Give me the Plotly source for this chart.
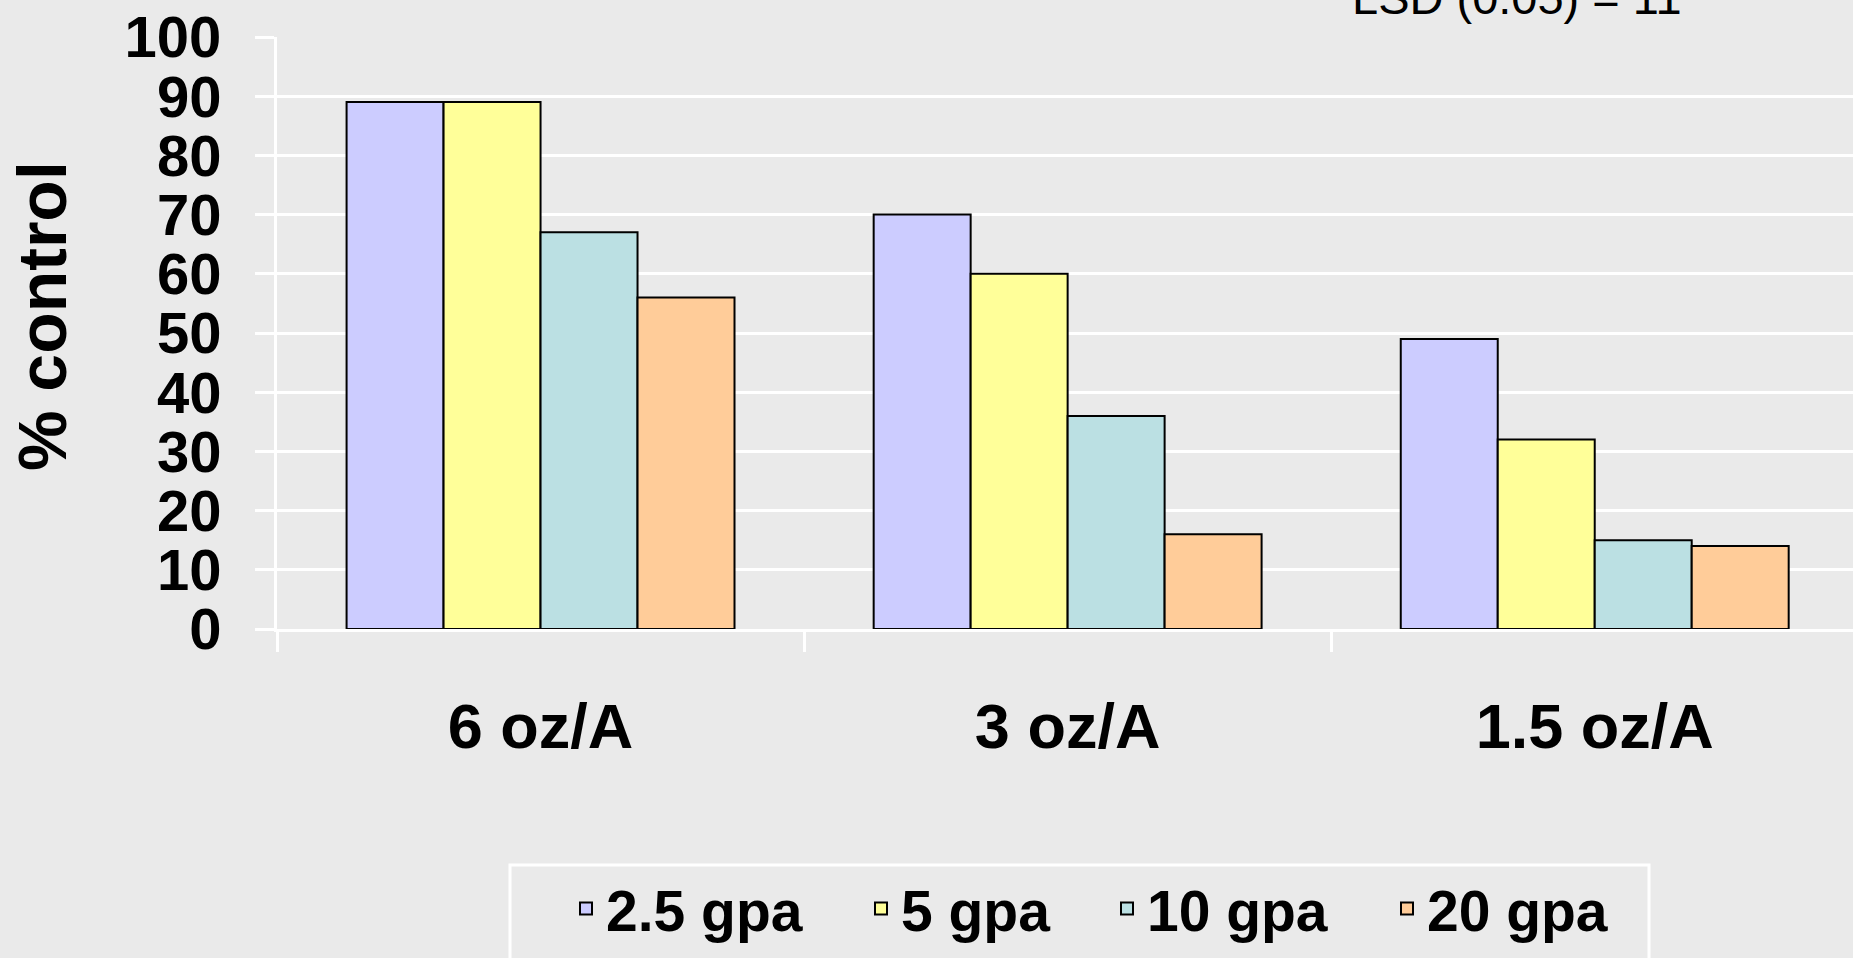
import plotly.graph_objects as go

# Application rate groups and spray volume series (% control)
rates = ["6 oz/A", "3 oz/A", "1.5 oz/A"]
series_names = ["2.5 gpa", "5 gpa", "10 gpa", "20 gpa"]
control_2_5 = [89, 70, 49]
control_5 = [89, 60, 32]
control_10 = [67, 36, 15]
control_20 = [56, 16, 14]
series_values = [control_2_5, control_5, control_10, control_20]
series_colors = ["#CCCCFF", "#FFFF99", "#BBE0E3", "#FFCC99"]
legend_widths = [250, 201, 235, 200]
y_ticks = [0, 10, 20, 30, 40, 50, 60, 70, 80, 90, 100]

W, H = 1853, 958
ML, MR, MT, MB = 277, 0, 37, 329
plot_w = W - ML - MR
plot_h = H - MT - MB

BG = "#EAEAEA"
FONT = "Liberation Sans, Arial, sans-serif"

fig = go.Figure()
for name, vals, col, lw in zip(series_names, series_values, series_colors, legend_widths):
    fig.add_trace(go.Bar(
        x=rates, y=vals, name=name,
        marker=dict(color=col, line=dict(color="black", width=2)),
        legendwidth=lw,
    ))


def px_x(px):
    return (px - ML) / plot_w


def px_y(py):
    return (H - MB - py) / plot_h


fig.update_layout(
    width=W, height=H,
    margin=dict(l=ML, r=MR, t=MT, b=MB),
    paper_bgcolor=BG, plot_bgcolor=BG,
    barmode="group", bargap=0.264, bargroupgap=0,
    font=dict(family=FONT, color="black"),
    showlegend=True,
    legend=dict(
        orientation="h",
        x=px_x(566), xanchor="left",
        y=px_y(865), yanchor="top",
        bgcolor="rgba(0,0,0,0)",
        borderwidth=0,
        font=dict(family=FONT, size=57, weight="bold", color="black"),
        traceorder="normal",
    ),
    xaxis=dict(
        type="category", range=[-0.5, 2.49],
        showgrid=False, zeroline=False,
        showline=True, linecolor="white", linewidth=3,
        ticks="outside", tickson="boundaries", ticklen=20,
        tickcolor="white", tickwidth=3,
        tickfont=dict(family=FONT, size=63, weight="bold", color="black"),
        ticklabelstandoff=40,
    ),
    yaxis=dict(
        range=[0, 100], tickvals=y_ticks,
        showgrid=True, gridcolor="white", gridwidth=3,
        zeroline=False,
        showline=True, linecolor="white", linewidth=3,
        ticks="outside", ticklen=19, tickcolor="white", tickwidth=3,
        tickfont=dict(family=FONT, size=58, weight="bold", color="black"),
        ticklabelstandoff=22,
    ),
    shapes=[
        # frame around the legend
        dict(
            type="rect", xref="paper", yref="paper",
            x0=px_x(510), x1=px_x(1649),
            y0=px_y(865), y1=px_y(990),
            line=dict(color="white", width=3),
            fillcolor="rgba(0,0,0,0)", layer="below",
        ),
    ],
    annotations=[
        dict(
            text="% control", textangle=-90,
            xref="paper", yref="paper",
            x=px_x(42), y=px_y(316),
            xanchor="center", yanchor="middle",
            showarrow=False,
            font=dict(family=FONT, size=68, weight="bold", color="black"),
        ),
        dict(
            text="LSD (0.05) = 11",
            xref="paper", yref="paper",
            x=px_x(1517), y=px_y(-3),
            xanchor="center", yanchor="middle",
            showarrow=False,
            font=dict(family=FONT, size=47, color="black"),
        ),
    ],
)

fig.write_html("out.html")
